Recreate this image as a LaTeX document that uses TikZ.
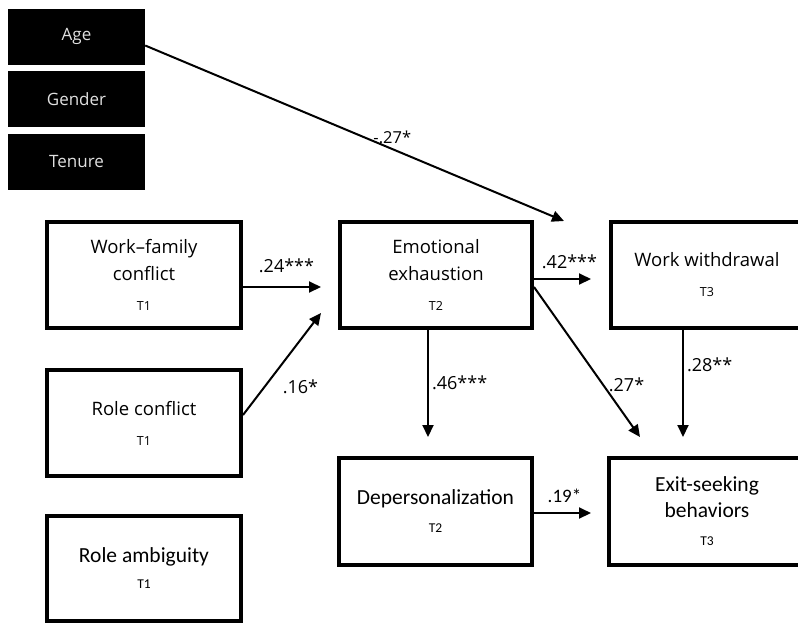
\documentclass[tikz,border=0pt]{standalone}
\usepackage{fontspec}
\setmainfont{Open Sans}
\newfontfamily\calib{Carlito}
\usepackage{tikz}
\usetikzlibrary{arrows.meta}

\newcommand{\tlab}[1]{{\fontsize{12.5}{14}\selectfont #1}}
\newcommand{\ctlab}[1]{{\fontsize{13.5}{15}\selectfont #1}}

\begin{document}
\begin{tikzpicture}[x=1pt, y=-1pt,
    box/.style={draw, line width=4pt, minimum width=194pt, minimum height=106pt,
        align=center, inner sep=0pt, font=\fontsize{18.5}{27}\selectfont},
    cbox/.style={box, font=\calib\fontsize{21.5}{26}\selectfont},
    ctrl/.style={fill=black, text=white!88!black, minimum width=137pt,
        minimum height=56pt, inner sep=0pt, font=\fontsize{17}{20}\selectfont},
    arr/.style={line width=2pt, -{Triangle[length=12pt, width=11pt]}},
    coef/.style={font=\fontsize{18}{20}\selectfont, inner sep=1pt}]
    \useasboundingbox (0, 0) rectangle (798, 625);

    % Controls
    \node[ctrl] (age) at (76.5, 36.5) {Age};
    \node[ctrl] (gender) at (76.5, 99) {Gender};
    \node[ctrl] (tenure) at (76.5, 162) {Tenure};

    % T1 predictors
    \node[box] (wfc) at (144, 275) {Work–family\\conflict\\[3pt]\tlab{T1}};
    \node[box] (rc) at (144, 423) {Role conflict\\[3pt]\tlab{T1}};
    \node[cbox, minimum height=105pt] (ra) at (144, 568.5) {\raisebox{-5pt}{Role ambiguity}\\[0pt]\raisebox{-5pt}{\ctlab{T1}}};

    % Mediators and outcomes
    \node[box, minimum width=192pt] (ee) at (436, 275) {Emotional\\exhaustion\\[3pt]\tlab{T2}};
    \node[box, minimum width=192pt] (ww) at (707, 275) {Work withdrawal\\[3pt]\tlab{T3}};
    \node[cbox, minimum width=193pt, minimum height=107pt] (dp) at (435.5, 511.5) {Depersonalization\\[2pt]\ctlab{T2}};
    \node[cbox, minimum width=196pt, minimum height=107pt] (ex) at (707, 511.5) {Exit-seeking\\behaviors\\[2pt]\ctlab{T3}};

    % Moderation by age
    \coordinate (mod) at (564, 221);
    \draw[arr] ([yshift=-9pt]age.east) -- (mod)
        node[coef, pos=.59, above=3pt, font=\fontsize{16.5}{20}\selectfont] {-.27*};

    % Paths
    \draw[arr, shorten >=17pt] ([yshift=-12pt]wfc.east) -- ([yshift=-12pt]ee.west)
        node[coef, midway, above=12pt, xshift=-4pt] {.24***};
    \draw[arr] ([yshift=8pt]rc.east) -- ([xshift=-17pt, yshift=-38pt]ee.west)
        node[coef, pos=.28, right=16pt] {.16*};
    \draw[arr, shorten >=18pt] ([yshift=-4pt]ee.east) -- ([yshift=-4pt]ww.west)
        node[coef, midway, above=8pt, xshift=-2pt] {.42***};
    \draw[arr, shorten >=19pt] ([xshift=-8pt]ee.south) -- ([xshift=-8pt]ee.south |- dp.north)
        node[coef, pos=.42, right=2pt] {.46***};
    \draw[arr] ([yshift=-12pt]ee.east) -- ([xshift=-67pt, yshift=19pt]ex.north)
        node[coef, pos=.65, right=4pt] {.27*};
    \draw[arr, shorten >=19pt] ([xshift=-24pt]ww.south) -- ([xshift=-24pt]ex.north)
        node[coef, pos=.28, right=2pt] {.28**};
    \draw[arr, shorten >=16pt] ([yshift=-1.5pt]dp.east) -- ([yshift=-1.5pt]dp.east -| ex.west)
        node[coef, midway, above=8pt, xshift=-6pt, font=\calib\fontsize{19}{20}\selectfont] {.19*};
\end{tikzpicture}
\end{document}
